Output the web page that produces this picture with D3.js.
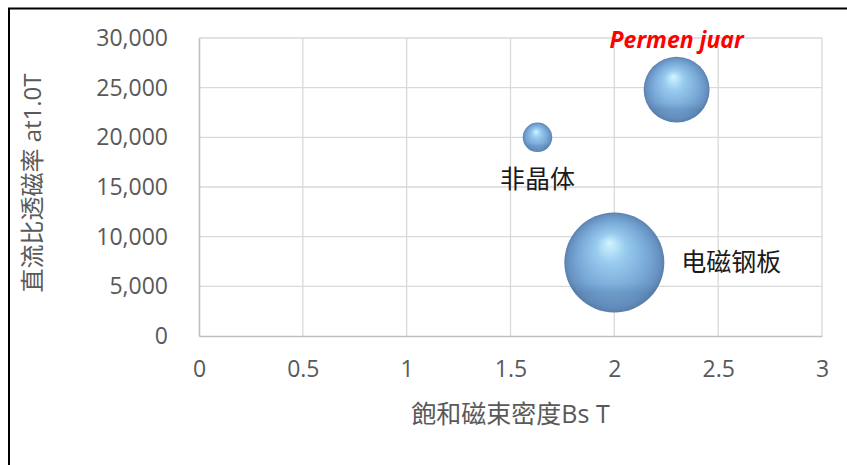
<!DOCTYPE html>
<html>
<head>
<meta charset="utf-8">
<script src="https://cdn.jsdelivr.net/npm/d3@7"></script>
<style>
  body { margin: 0; background: #fff; }
  text { font-family: "Open Sans", "Noto Sans CJK SC", sans-serif; }
</style>
</head>
<body>
<div class="d3-container"></div>
<script>
const names = ["非晶体", "Permen juar", "电磁钢板"];
const bs = [1.63, 2.3, 2.0];           // saturation flux density, T
const mu = [20000, 24800, 7400];       // DC relative permeability at 1.0T
const bubbleSize = [1.0, 5.0, 11.5];
const labelSide = ["below", "above", "right"];
const xTicks = [0, 0.5, 1, 1.5, 2, 2.5, 3];
const yTicks = [0, 5000, 10000, 15000, 20000, 25000, 30000];

const width = 847;
const height = 465;
const margin = {top: 38, bottom: 129, left: 199, right: 25};

const svg = d3.select(".d3-container")
  .append("svg")
  .attr("width", width)
  .attr("height", height)
  .attr("viewBox", [0, 0, width, height]);

// outer frame (right/bottom edges fall outside the picture)
svg.append("path")
  .attr("d", "M9,470 L9,8.5 L852,8.5")
  .attr("fill", "none")
  .attr("stroke", "#000")
  .attr("stroke-width", 2);

const x = d3.scaleLinear()
  .domain([0, 3])
  .range([margin.left, width - margin.right]);

const y = d3.scaleLinear()
  .domain([0, 30000])
  .range([height - margin.bottom, margin.top]);

const r = d3.scaleSqrt()
  .domain([0, d3.max(bubbleSize)])
  .range([0, 50]);

// gridlines
const grid = svg.append("g").attr("stroke", "#d9d9d9").attr("stroke-width", 1.3);
grid.selectAll(".gx")
  .data(xTicks.slice(1))
  .join("line")
  .attr("x1", d => x(d)).attr("x2", d => x(d))
  .attr("y1", y(0)).attr("y2", y(30000));
grid.selectAll(".gy")
  .data(yTicks.slice(1))
  .join("line")
  .attr("x1", x(0)).attr("x2", x(3))
  .attr("y1", d => y(d)).attr("y2", d => y(d));

function xAxis(g) {
  g.attr("transform", `translate(0, ${y(0)})`)
    .call(d3.axisBottom(x).tickValues(xTicks).tickSize(0).tickPadding(25).tickFormat(d3.format("")))
  g.select(".domain").attr("stroke", "#bfbfbf").attr("stroke-width", 1.6);
  g.selectAll("text").attr("font-size", 23).attr("fill", "#595959")
    .attr("font-family", "'Open Sans', sans-serif");
}

function yAxis(g) {
  g.attr("transform", `translate(${x(0)}, 0)`)
    .call(d3.axisLeft(y).tickValues(yTicks).tickSize(0).tickPadding(31).tickFormat(d3.format(",")))
  g.select(".domain").attr("stroke", "#bfbfbf").attr("stroke-width", 1.6);
  g.selectAll("text").attr("font-size", 23).attr("fill", "#595959")
    .attr("font-family", "'Open Sans', sans-serif");
}

svg.append("g").call(xAxis);
svg.append("g").call(yAxis);

// axis titles
svg.append("text")
  .attr("x", (x(0) + x(3)) / 2)
  .attr("y", 423)
  .attr("text-anchor", "middle")
  .attr("font-size", 25)
  .attr("fill", "#595959")
  .text("飽和磁束密度Bs T");

svg.append("text")
  .attr("transform", `translate(41, 183) rotate(-90)`)
  .attr("text-anchor", "middle")
  .attr("font-size", 24)
  .attr("fill", "#595959")
  .text("直流比透磁率 at1.0T");

// bubble shading
const defs = svg.append("defs");
const grad = defs.append("radialGradient")
  .attr("id", "ball")
  .attr("cx", "50%").attr("cy", "50%").attr("r", "50%")
  .attr("fx", "45%").attr("fy", "30%");
grad.append("stop").attr("offset", "0%").attr("stop-color", "#d2f5ff");
grad.append("stop").attr("offset", "30%").attr("stop-color", "#98cbef");
grad.append("stop").attr("offset", "70%").attr("stop-color", "#78a8d6");
grad.append("stop").attr("offset", "92%").attr("stop-color", "#6690c0");
grad.append("stop").attr("offset", "100%").attr("stop-color", "#5a80ab");

const shade = defs.append("linearGradient")
  .attr("id", "shade")
  .attr("x1", 0).attr("y1", 0).attr("x2", 0).attr("y2", 1);
shade.append("stop").attr("offset", "0%").attr("stop-color", "#fff").attr("stop-opacity", 0);
shade.append("stop").attr("offset", "70%").attr("stop-color", "#3d6590").attr("stop-opacity", 0);
shade.append("stop").attr("offset", "80%").attr("stop-color", "#3d6590").attr("stop-opacity", 0.18);
shade.append("stop").attr("offset", "100%").attr("stop-color", "#3d6590").attr("stop-opacity", 0.05);

const pts = names.map((n, i) => ({name: n, bs: bs[i], mu: mu[i], size: bubbleSize[i], side: labelSide[i]}));

const bubbles = svg.append("g")
  .selectAll("g")
  .data(pts.slice().sort((a, b) => d3.descending(a.size, b.size)))
  .join("g");
bubbles.append("circle")
  .attr("cx", d => x(d.bs))
  .attr("cy", d => y(d.mu))
  .attr("r", d => r(d.size))
  .attr("fill", "url(#ball)");
bubbles.append("circle")
  .attr("cx", d => x(d.bs))
  .attr("cy", d => y(d.mu))
  .attr("r", d => r(d.size))
  .attr("fill", "url(#shade)");

// data labels
svg.append("g")
  .selectAll("text")
  .data(pts)
  .join("text")
  .attr("x", d => d.side === "right" ? x(d.bs) + r(d.size) + 17 : x(d.bs))
  .attr("y", d => d.side === "below" ? y(d.mu) + r(d.size) + 27
               : d.side === "above" ? y(d.mu) - r(d.size) - 17
               : y(d.mu))
  .attr("dy", "0.36em")
  .attr("text-anchor", d => d.side === "right" ? "start" : "middle")
  .attr("font-size", d => d.side === "above" ? 23 : 25)
  .attr("font-weight", d => d.side === "above" ? "bold" : "normal")
  .attr("font-style", d => d.side === "above" ? "italic" : "normal")
  .attr("fill", d => d.side === "above" ? "#ff0000" : "#1a1a1a")
  .text(d => d.name);

svg.node();
</script>
</body>
</html>
